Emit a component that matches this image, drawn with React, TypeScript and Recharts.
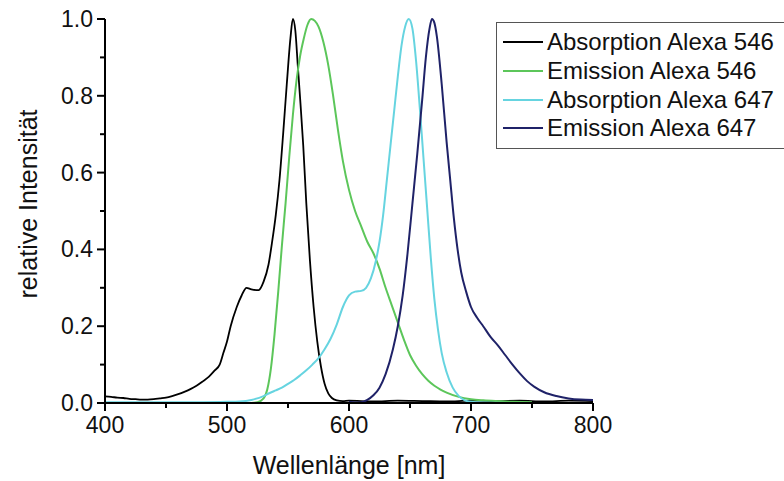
import { Legend, Line, LineChart, XAxis, YAxis } from "recharts";

const FONT = '"Liberation Sans", Arial, Helvetica, sans-serif';

// Absorption Alexa 546 (black)
const abs546Nm = [
  400, 405, 410, 415, 420, 425, 430, 435, 440, 445, 450, 455, 460, 465, 470, 475, 480, 485, 490,
  494, 497, 500, 503, 508, 512, 516, 520, 526, 530, 534, 537, 540, 543, 546, 549, 552, 554, 556,
  558, 560, 562.5, 565, 568, 571, 574, 577, 580, 583, 586, 590, 595, 600, 620, 640, 660, 680, 700,
  720, 740, 760, 780, 800,
];
const abs546 = [
  0.017, 0.016, 0.014, 0.013, 0.011, 0.01, 0.009, 0.009, 0.01, 0.012, 0.014, 0.018, 0.023, 0.029,
  0.036, 0.045, 0.056, 0.068, 0.085, 0.1, 0.13, 0.16, 0.2, 0.25, 0.28, 0.3, 0.296, 0.294, 0.316,
  0.36, 0.42, 0.49, 0.58, 0.7, 0.83, 0.95, 1.0, 0.97, 0.88, 0.79, 0.67, 0.52, 0.37, 0.25, 0.16,
  0.095, 0.05, 0.025, 0.013, 0.007, 0.005, 0.006, 0.004, 0.006, 0.005, 0.004, 0.006, 0.005, 0.006,
  0.004, 0.006, 0.005,
];

// Emission Alexa 546 (green)
const em546Nm = [
  500, 520, 525, 530, 533, 536, 539, 542, 545, 548, 551, 554, 557, 560, 563, 566, 569, 572, 575,
  579, 583, 587, 591, 595, 600, 605, 610, 615, 620, 625, 630, 635, 640, 645, 650, 655, 660, 665,
  670, 675, 680, 690, 700, 710, 720, 735, 750,
];
const em546 = [
  0, 0, 0.002, 0.012, 0.035, 0.09, 0.18, 0.29, 0.41, 0.52, 0.64, 0.75, 0.84, 0.905, 0.95, 0.985,
  1.0, 0.995, 0.98, 0.94, 0.88, 0.8, 0.71, 0.63, 0.555, 0.5, 0.46, 0.42, 0.39, 0.35, 0.3, 0.255,
  0.21, 0.165, 0.125, 0.097, 0.075, 0.058, 0.045, 0.035, 0.027, 0.016, 0.01, 0.007, 0.005, 0.003,
  0.002,
];

// Absorption Alexa 647 (cyan)
const abs647Nm = [
  400, 450, 480, 500, 510, 520, 530, 535, 540, 545, 550, 555, 560, 565, 570, 575, 580, 585, 590,
  595, 600, 605, 610, 614, 618, 622, 625, 628, 631, 634, 637, 640, 643, 646, 649, 652, 655, 658,
  661, 664, 667, 670, 673, 676, 680, 685, 690, 695, 700, 710, 730,
];
const abs647 = [
  0.002, 0.002, 0.002, 0.003, 0.004, 0.008, 0.018, 0.026, 0.033, 0.04, 0.05, 0.06, 0.072, 0.085,
  0.1, 0.117, 0.14, 0.168, 0.205, 0.25, 0.28, 0.29, 0.292, 0.3, 0.325, 0.37, 0.42, 0.49, 0.58,
  0.67, 0.76, 0.85, 0.93, 0.98, 1.0, 0.975, 0.89, 0.77, 0.64, 0.51, 0.38, 0.27, 0.19, 0.13, 0.08,
  0.04, 0.018, 0.007, 0.003, 0.001, 0,
];

// Emission Alexa 647 (navy)
const em647Nm = [
  600, 605, 610, 615, 620, 625, 630, 636, 640, 644, 648, 652, 656, 660, 663, 666, 668, 670, 672,
  676, 680, 683, 686, 689, 692, 696, 700, 705, 710, 716, 722, 728, 734, 740, 746, 752, 760, 770,
  780, 790, 800,
];
const em647 = [
  0.003, 0.001, 0.002, 0.008, 0.02, 0.04, 0.075, 0.14, 0.2, 0.28, 0.39, 0.52, 0.65, 0.79, 0.9,
  0.975, 1.0, 0.99, 0.955, 0.83, 0.68, 0.58, 0.48, 0.4, 0.34, 0.29, 0.25, 0.222, 0.2, 0.172, 0.15,
  0.125, 0.1, 0.077, 0.057, 0.042, 0.028, 0.018, 0.012, 0.009, 0.008,
];

const seriesNames = [
  "Absorption Alexa 546",
  "Emission Alexa 546",
  "Absorption Alexa 647",
  "Emission Alexa 647",
];
const seriesColors = ["#000000", "#5cc65a", "#66d4e0", "#1f2268"];

const xTicks = [400, 450, 500, 550, 600, 650, 700, 750, 800];
const yTicks = [0, 0.1, 0.2, 0.3, 0.4, 0.5, 0.6, 0.7, 0.8, 0.9, 1.0];

const toPoints = (nm: number[], v: number[]) => nm.map((x, i) => ({ nm: x, v: v[i] }));

const series = [
  toPoints(abs546Nm, abs546),
  toPoints(em546Nm, em546),
  toPoints(abs647Nm, abs647),
  toPoints(em647Nm, em647),
];

function XTick(props: any) {
  const { x, y, payload } = props;
  const major = payload.value % 100 === 0;
  return (
    <g>
      <line x1={x} y1={y} x2={x} y2={y + (major ? 8 : 5)} stroke="#000" strokeWidth={2} />
      {major && (
        <text x={x} y={y + 30} textAnchor="middle" fontSize={23} fontFamily={FONT} fill="#111">
          {payload.value}
        </text>
      )}
    </g>
  );
}

function YTick(props: any) {
  const { x, y, payload } = props;
  const major = Math.round(payload.value * 10) % 2 === 0;
  return (
    <g>
      <line x1={x - (major ? 8 : 5)} y1={y} x2={x} y2={y} stroke="#000" strokeWidth={2} />
      {major && (
        <text x={x - 12} y={y + 8} textAnchor="end" fontSize={23} fontFamily={FONT} fill="#111">
          {payload.value.toFixed(1)}
        </text>
      )}
    </g>
  );
}

// legend drawn from our own arrays so the order stays as in the original
function LegendBox() {
  return (
    <div
      style={{
        border: "1px solid #555",
        background: "#fff",
        width: 300,
        padding: "5px 0 5px 6px",
        fontFamily: FONT,
        fontSize: 24,
        color: "#111",
      }}
    >
      {seriesNames.map((name, i) => (
        <div key={name} style={{ display: "flex", alignItems: "center", height: 28.7 }}>
          <svg width={40} height={4} style={{ marginRight: 4 }}>
            <line x1={0} y1={2} x2={40} y2={2} stroke={seriesColors[i]} strokeWidth={2} />
          </svg>
          <span style={{ whiteSpace: "nowrap" }}>{name}</span>
        </div>
      ))}
    </div>
  );
}

export default function App() {
  return (
    <div
      style={{
        position: "absolute",
        left: 0,
        top: 0,
        width: 784,
        height: 481,
        overflow: "hidden",
        background: "#fff",
      }}
    >
      <LineChart width={784} height={481} margin={{ top: 19, right: 191, bottom: 0, left: 0 }}>
        <XAxis
          dataKey="nm"
          type="number"
          domain={[400, 800]}
          ticks={xTicks}
          interval={0}
          tickSize={0}
          tickMargin={0}
          tick={<XTick />}
          height={78}
          axisLine={{ stroke: "#000", strokeWidth: 2 }}
          allowDuplicatedCategory={false}
          label={{
            content: (p: any) => (
              <text
                x={p.viewBox.x + p.viewBox.width / 2}
                y={474}
                textAnchor="middle"
                fontSize={25}
                fontFamily={FONT}
                fill="#111"
              >
                Wellenlänge [nm]
              </text>
            ),
          }}
        />
        <YAxis
          type="number"
          domain={[0, 1]}
          ticks={yTicks}
          interval={0}
          tickSize={0}
          tickMargin={0}
          tick={<YTick />}
          width={105}
          axisLine={{ stroke: "#000", strokeWidth: 2 }}
          label={{
            content: (p: any) => {
              const cy = p.viewBox.y + p.viewBox.height / 2 - 7;
              return (
                <text
                  x={37}
                  y={cy}
                  transform={`rotate(-90, 37, ${cy})`}
                  textAnchor="middle"
                  fontSize={25}
                  fontFamily={FONT}
                  fill="#111"
                >
                  relative Intensität
                </text>
              );
            },
          }}
        />
        <Legend
          layout="vertical"
          align="center"
          verticalAlign="middle"
          content={<LegendBox />}
          wrapperStyle={{ left: 496, top: 22, width: 300 }}
        />
        {series.map((d, i) => (
          <Line
            key={seriesNames[i]}
            data={d}
            dataKey="v"
            name={seriesNames[i]}
            type="monotone"
            stroke={seriesColors[i]}
            strokeWidth={i === 0 ? 1.8 : 2}
            dot={false}
            activeDot={false}
            isAnimationActive={false}
          />
        ))}
      </LineChart>
    </div>
  );
}
